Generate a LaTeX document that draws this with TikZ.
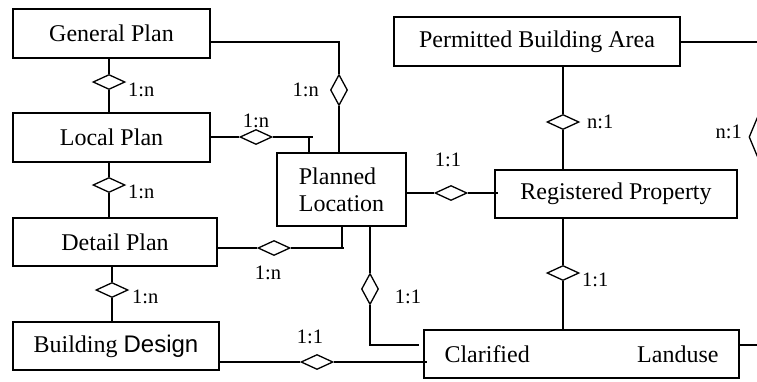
\documentclass[tikz,border=0pt]{standalone}
\usepackage{fontspec}
\setmainfont{Liberation Serif}
\newfontfamily\arialfont{Liberation Sans}
\usetikzlibrary{shapes.geometric}

\tikzset{
  entity/.style={draw, line width=1.6pt, rectangle, inner sep=0pt,
    font=\fontsize{24}{27}\selectfont},
  link/.style={line width=1.3pt},
  relh/.style={draw, line width=1.3pt, diamond, inner sep=0pt, fill=white,
    minimum width=32pt, minimum height=15pt},
  relv/.style={draw, line width=1.3pt, diamond, inner sep=0pt, fill=white,
    minimum width=17pt, minimum height=31pt},
  card/.style={inner sep=0pt, font=\fontsize{20.5}{22}\selectfont}
}

\begin{document}
\begin{tikzpicture}[x=1pt, y=-1pt]
\clip (0,0) rectangle (757,381);
\fill[white] (0,0) rectangle (757,381);

% entities
\node[entity, minimum width=197pt, minimum height=49pt] (gp) at (111.5,33.5) {General Plan};
\node[entity, minimum width=197pt, minimum height=49pt] (lp) at (111.5,137.5) {Local Plan};
\node[entity, minimum width=204pt, minimum height=48pt] (dp) at (115,242) {Detail Plan};
\node[entity, minimum width=206pt, minimum height=48pt] (bd) at (116,346) {Building {\arialfont Design}};
\node[entity, minimum width=129pt, minimum height=73pt, align=left] (pl) at (341.5,189.5) {Planned\\Location};
\node[entity, minimum width=286pt, minimum height=49pt] (pba) at (537,41.5) {Permitted Building Area};
\node[entity, minimum width=242pt, minimum height=48pt] (rp) at (616,194) {Registered Property};
\node[entity, minimum width=315pt, minimum height=48pt] (cl) at (581.5,354)
  {\makebox[274pt]{Clarified\hfill Landuse}};

% relationships
\node[relh] (r1) at (109,82) {};
\node[relv] (r2) at (339,90) {};
\node[relh] (r3) at (256,137) {};
\node[relh] (r4) at (109,185) {};
\node[relh] (r5) at (274,248) {};
\node[relh] (r6) at (112,290) {};
\node[relv] (r7) at (370,289) {};
\node[relh] (r8) at (317,362) {};
\node[relh] (r9) at (451,193) {};
\node[relh] (r10) at (563,122) {};
\node[relv, minimum height=40pt] (r11) at (757.5,137) {};
\node[relh] (r12) at (563,273) {};

% bend points
\coordinate (b2) at (339,42);
\coordinate (b3) at (309,137);
\coordinate (e3) at (313,137);
\coordinate (b5) at (342,248);
\coordinate (e5) at (344,248);
\coordinate (b7) at (370,345);
\coordinate (e7) at (419,345);
\coordinate (e8) at (427,362);
\coordinate (e9) at (498,193);
\coordinate (b11) at (757.5,42);
\coordinate (e11) at (757.5,273);
\coordinate (e12) at (757,345);

% connectors
\draw[link] (gp.south -| r1) -- (r1.north);
\draw[link] (r1.south) -- (lp.north -| r1);
\draw[link] (gp.east |- b2) -- (b2) -- (r2.north);
\draw[link] (r2.south) -- (pl.north -| r2);
\draw[link] (lp.east |- r3) -- (r3.west);
\draw[link] (r3.east) -- (e3);
\draw[link] (b3) -- (pl.north -| b3);
\draw[link] (lp.south -| r4) -- (r4.north);
\draw[link] (r4.south) -- (dp.north -| r4);
\draw[link] (dp.east |- r5) -- (r5.west);
\draw[link] (r5.east) -- (e5);
\draw[link] (b5) -- (pl.south -| b5);
\draw[link] (dp.south -| r6) -- (r6.north);
\draw[link] (r6.south) -- (bd.north -| r6);
\draw[link] (pl.south -| r7) -- (r7.north);
\draw[link] (r7.south) -- (b7) -- (e7);
\draw[link] (bd.east |- r8) -- (r8.west);
\draw[link] (r8.east) -- (e8);
\draw[link] (pl.east |- r9) -- (r9.west);
\draw[link] (r9.east) -- (e9);
\draw[link] (pba.south -| r10) -- (r10.north);
\draw[link] (r10.south) -- (rp.north -| r10);
\draw[link] (pba.east |- b11) -- (b11) -- (r11.north);
\draw[link, gray!60] (r11.south) -- (e11);
\draw[link] (rp.south -| r12) -- (r12.north);
\draw[link] (r12.south) -- (cl.north -| r12);
\draw[link] (cl.east |- e12) -- (e12);

% cardinalities
\node[card, anchor=west] (c1) at (128,90) {1:n};
\node[card, anchor=east] (c2) at (319,90) {1:n};
\node[card] (c3) at (256,121) {1:n};
\node[card, anchor=west] (c4) at (128,192) {1:n};
\node[card] (c5) at (268,273) {1:n};
\node[card, anchor=west] (c6) at (132,297) {1:n};
\node[card] (c7) at (408,297) {1:1};
\node[card] (c8) at (310,337) {1:1};
\node[card] (c9) at (448,160) {1:1};
\node[card, anchor=west] (c10) at (587,122) {n:1};
\node[card, anchor=east] (c11) at (742,132) {n:1};
\node[card, anchor=west] (c12) at (582,280) {1:1};
\end{tikzpicture}
\end{document}
